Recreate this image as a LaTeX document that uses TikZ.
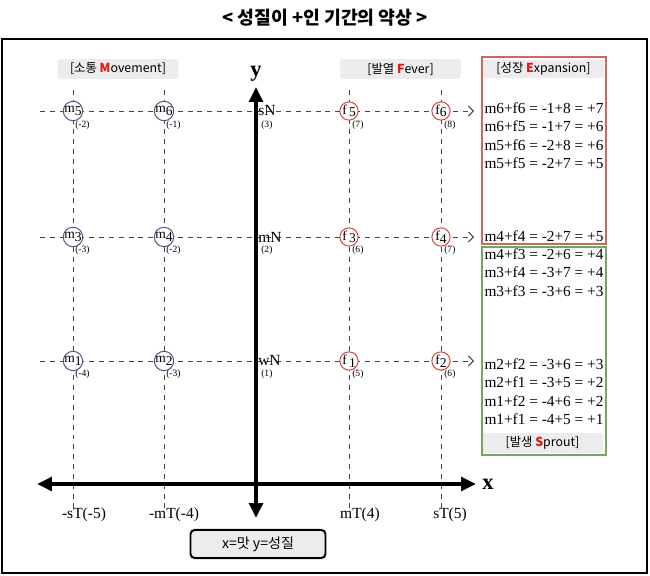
\documentclass[tikz,border=0pt]{standalone}
\usepackage{fontspec}
\setmainfont{Liberation Serif}
\newfontfamily\kofont{Noto Sans CJK KR}
\usepackage{xcolor}
\usepackage{tikz}
\usetikzlibrary{arrows.meta}
\definecolor{boxred}{RGB}{205,105,92}
\definecolor{boxgreen}{RGB}{112,168,96}
\definecolor{mblue}{RGB}{80,82,130}
\definecolor{fred}{RGB}{212,68,58}
\definecolor{hlred}{RGB}{230,20,20}
\definecolor{lblgray}{RGB}{236,236,238}
\definecolor{dashgray}{RGB}{70,70,70}

\begin{document}
\begin{tikzpicture}
  [
    x=0.025cm, y=-0.025cm,
    grid/.style={draw=dashgray, line width=0.7pt, dash pattern=on 3.5pt off 3.5pt},
    gridarr/.style={grid, -{Straight Barb[length=3.5pt,width=7pt]}},
    axis/.style={line width=2.9pt, {Triangle[length=10.5pt,width=9.5pt]}-{Triangle[length=10.5pt,width=9.5pt]}},
    mcell/.style={circle, draw=mblue, fill=white, line width=0.7pt, minimum size=13pt,
    inner sep=0pt, font=\fontsize{9.6}{9.6}\selectfont},
    fcell/.style={mcell, draw=fred},
    val/.style={anchor=west, inner sep=0pt, font=\fontsize{6.8}{7}\selectfont},
    lvl/.style={anchor=west, inner sep=0pt, font=\fontsize{11}{12}\selectfont},
    tick/.style={inner sep=0pt, font=\fontsize{11}{12}\selectfont},
    eq/.style={inner sep=0pt, font=\fontsize{10.9}{12}\selectfont},
    tag/.style={fill=lblgray, rounded corners=2pt, minimum width=86pt,
    minimum height=14pt, inner sep=0pt, font=\kofont\fontsize{8.8}{10}\selectfont},
    big/.style={inner sep=0pt, font=\fontsize{16}{16}\selectfont\bfseries}
  ]
  \useasboundingbox (0,0) rectangle (650,576);

  \node (title) at (325,18) [font=\kofont\fontsize{13}{14}\selectfont\bfseries] {< 성질이 +인 기간의 약상 >};
  \draw [line width=2.1pt] (2,39) rectangle (647,573);

  \coordinate (h1a) at ( 40,111);  \coordinate (h1b) at (474,111);
  \coordinate (h2a) at ( 40,237);  \coordinate (h2b) at (474,237);
  \coordinate (h3a) at ( 40,361);  \coordinate (h3b) at (474,361);
  \coordinate (v1a) at ( 73, 90);  \coordinate (v1b) at ( 73,512);
  \coordinate (v2a) at (164, 90);  \coordinate (v2b) at (164,512);
  \coordinate (v3a) at (349, 90);  \coordinate (v3b) at (349,512);
  \coordinate (v4a) at (441, 90);  \coordinate (v4b) at (441,512);
  \coordinate (xl)  at ( 37,484);  \coordinate (xr)  at (476,484);
  \coordinate (yb)  at (256,518);  \coordinate (yt)  at (256, 87);

  \draw [grid]    (v1a) -- (v1b);
  \draw [grid]    (v2a) -- (v2b);
  \draw [grid]    (v3a) -- (v3b);
  \draw [grid]    (v4a) -- (v4b);
  \draw [gridarr] (h1a) -- (h1b);
  \draw [gridarr] (h2a) -- (h2b);
  \draw [gridarr] (h3a) -- (h3b);
  \draw [axis]    (xl) -- (xr);
  \draw [axis]    (yb) -- (yt);

  \node (xlab) at (488,484) [big] {x};
  \node (ylab) at (256, 74) [big] {y};

  \node (mov) at (118  ,69) [tag] {[소통 {\color{hlred}\bfseries M}ovement]};
  \node (fev) at (400.5,69) [tag] {[발열 {\color{hlred}\bfseries F}ever]};
  \node (exp) at (543.5,69) [tag, minimum height=12.8pt] {[성장 {\color{hlred}\bfseries E}xpansion]};
  \node (spr) at (542.5,443) [tag] {[발생 {\color{hlred}\bfseries S}prout]};

  \node (m5) at ( 73,111) [mcell] {m\raisebox{-1.8pt}{5}};
  \node (m6) at (164,111) [mcell] {m\raisebox{-1.8pt}{6}};
  \node (m3) at ( 73,237) [mcell] {m\raisebox{-1.8pt}{3}};
  \node (m4) at (164,237) [mcell] {m\raisebox{-1.8pt}{4}};
  \node (m1) at ( 73,361) [mcell] {m\raisebox{-1.8pt}{1}};
  \node (m2) at (164,361) [mcell] {m\raisebox{-1.8pt}{2}};
  \node (f5) at (349,111) [fcell] {f\,\raisebox{-1.8pt}{5}};
  \node (f6) at (441,111) [fcell] {f\raisebox{-1.8pt}{6}};
  \node (f3) at (349,237) [fcell] {f\,\raisebox{-1.8pt}{3}};
  \node (f4) at (441,237) [fcell] {f\raisebox{-1.8pt}{4}};
  \node (f1) at (349,361) [fcell] {f\,\raisebox{-1.8pt}{1}};
  \node (f2) at (441,361) [fcell] {f\raisebox{-1.8pt}{2}};

  \node (v5)  at ( 75,125) [val] {(-2)};
  \node (v6)  at (166,125) [val] {(-1)};
  \node (v3)  at ( 75,250) [val] {(-3)};
  \node (v4)  at (166,250) [val] {(-2)};
  \node (v1)  at ( 75,374) [val] {(-4)};
  \node (v2)  at (166,374) [val] {(-3)};
  \node (w5)  at (352,125) [val] {(7)};
  \node (w6)  at (444,125) [val] {(8)};
  \node (w3)  at (352,250) [val] {(6)};
  \node (w4)  at (444,250) [val] {(7)};
  \node (w1)  at (352,374) [val] {(5)};
  \node (w2)  at (444,374) [val] {(6)};
  \node (n3v) at (261,125) [val] {(3)};
  \node (n2v) at (261,250) [val] {(2)};
  \node (n1v) at (261,374) [val] {(1)};

  \node (sN) at (258,111) [lvl] {sN};
  \node (mN) at (258,237) [lvl] {mN};
  \node (wN) at (258,361) [lvl] {wN};

  \node (tsT)  at ( 84,515) [tick] {-sT(-5)};
  \node (tmT)  at (174,515) [tick] {-mT(-4)};
  \node (tmT2) at (360,515) [tick] {mT(4)};
  \node (tsT2) at (450,515) [tick] {sT(5)};

  \draw [boxred,   line width=0.9pt] (482, 57) rectangle (606,244);
  \draw [boxgreen, line width=0.9pt] (482,247) rectangle (606,455);

  \node (e66) at (544,108) [eq] {m6+f6 = -1+8 = +7};
  \node (e65) at (544,126) [eq] {m6+f5 = -1+7 = +6};
  \node (e56) at (544,145) [eq] {m5+f6 = -2+8 = +6};
  \node (e55) at (544,163) [eq] {m5+f5 = -2+7 = +5};
  \node (e44) at (544,236) [eq] {m4+f4 = -2+7 = +5};
  \node (e43) at (544,254) [eq] {m4+f3 = -2+6 = +4};
  \node (e34) at (544,272) [eq] {m3+f4 = -3+7 = +4};
  \node (e33) at (544,291) [eq] {m3+f3 = -3+6 = +3};
  \node (e22) at (544,364) [eq] {m2+f2 = -3+6 = +3};
  \node (e21) at (544,382) [eq] {m2+f1 = -3+5 = +2};
  \node (e12) at (544,401) [eq] {m1+f2 = -4+6 = +2};
  \node (e11) at (544,419) [eq] {m1+f1 = -4+5 = +1};

  \node (key) at (258,544) [draw, line width=1.4pt, fill=lblgray, rounded corners=3pt,
  minimum width=96pt, minimum height=20pt, font=\kofont\fontsize{10}{11}\selectfont] {x=맛 y=성질};
\end{tikzpicture}
\end{document}
